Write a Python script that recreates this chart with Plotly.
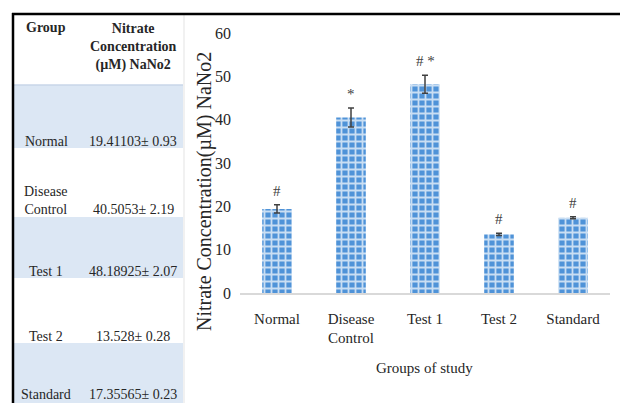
import plotly.graph_objects as go

# Nitrate concentration per study group (mean ± SEM)
groups = ["Normal", "Disease Control", "Test 1", "Test 2", "Standard"]
tick_labels = ["Normal", "Disease<br>Control", "Test 1", "Test 2", "Standard"]
table_labels = ["Normal", "Disease<br>Control", "Test 1", "Test 2", "Standard"]
means = [19.41103, 40.5053, 48.18925, 13.528, 17.35565]
sems = [0.93, 2.19, 2.07, 0.28, 0.23]
sig_marks = ["#", "*", "# *", "#", "#"]
y_ticks = [0, 10, 20, 30, 40, 50, 60]

W, H = 620, 403
SERIF = "Liberation Serif, Times New Roman, serif"
TEXT = "#262626"


def px(x):
    return x / W


def py(y):
    return 1 - y / H


def paper_text(text, x, y, size=14, angle=0, bold=False):
    if bold:
        text = f"<b>{text}</b>"
    return dict(text=text, xref="paper", yref="paper", x=px(x), y=py(y),
                xanchor="center", yanchor="middle", align="center",
                textangle=angle, showarrow=False,
                font=dict(family=SERIF, size=size, color=TEXT))


fig = go.Figure()

fig.add_trace(go.Bar(
    x=groups,
    y=means,
    width=0.4,
    marker=dict(
        color="#4F93D8",
        line=dict(width=0),
        pattern=dict(shape="+", fgcolor="#C9DEF3", bgcolor="#4F93D8",
                     size=7, solidity=0.45, fillmode="replace"),
    ),
    error_y=dict(type="data", array=sems, visible=True,
                 color="#404040", thickness=1.5, width=3),
    showlegend=False,
))

shapes = []
annotations = []

# --- table on the left ---------------------------------------------------
row_bands = [(85, 148, "#DCE7F4"), (148, 217, "#FFFFFF"), (217, 278, "#DCE7F4"),
             (278, 343, "#FFFFFF"), (343, 403, "#DCE7F4")]
for y0, y1, col in row_bands:
    shapes.append(dict(type="rect", xref="paper", yref="paper",
                       x0=px(14), x1=px(183), y0=py(y1), y1=py(y0),
                       fillcolor=col, line=dict(width=0), layer="below"))
# header separator and right edge of the table
shapes.append(dict(type="line", xref="paper", yref="paper",
                   x0=px(14), x1=px(183), y0=py(85), y1=py(85),
                   line=dict(color="#C8D6E8", width=1.5)))
shapes.append(dict(type="line", xref="paper", yref="paper",
                   x0=px(184), x1=px(184), y0=py(15), y1=py(403),
                   line=dict(color="#E3E3E3", width=1)))
# black frame (top and left)
shapes.append(dict(type="line", xref="paper", yref="paper",
                   x0=px(12), x1=px(620), y0=py(14), y1=py(14),
                   line=dict(color="#000000", width=2.5)))
shapes.append(dict(type="line", xref="paper", yref="paper",
                   x0=px(13), x1=px(13), y0=py(13), y1=py(403),
                   line=dict(color="#000000", width=2.5)))

# header text
annotations.append(paper_text("Group", 46, 28, bold=True))
annotations.append(paper_text("Nitrate<br>Concentration<br>(µM) NaNo2",
                              133, 47, bold=True))

# body rows: text sits at the bottom of each row
label_y = [141, 200, 271, 336, 394]
value_y = [141, 209, 271, 336, 394]
for lab, m, s, ly, vy in zip(table_labels, means, sems, label_y, value_y):
    annotations.append(paper_text(lab, 46, ly))
    annotations.append(paper_text(f"{m}± {s:.2f}", 133, vy))

# --- chart annotations ----------------------------------------------------
for g, m, s, mark in zip(groups, means, sems, sig_marks):
    annotations.append(dict(text=mark, x=g, y=m + s, xref="x", yref="y",
                            xanchor="center", yanchor="bottom", yshift=4,
                            showarrow=False,
                            font=dict(family=SERIF, size=15, color="#404040")))

annotations.append(paper_text("Nitrate Concentration(µM) NaNo2", 204, 192,
                              size=20, angle=-90))
annotations.append(paper_text("Groups of study", 425, 368, size=15))

fig.update_layout(
    width=W, height=H,
    margin=dict(l=0, r=0, t=0, b=0),
    paper_bgcolor="white",
    plot_bgcolor="white",
    shapes=shapes,
    annotations=annotations,
    xaxis=dict(
        domain=[px(240), px(610)],
        tickmode="array", tickvals=groups, ticktext=tick_labels,
        showline=True, linecolor="#D9D9D9", linewidth=1.5,
        ticks="", showgrid=False, zeroline=False,
        tickfont=dict(family=SERIF, size=15, color=TEXT),
        ticklabelstandoff=11,
        automargin=False,
    ),
    yaxis=dict(
        domain=[py(293), py(33)],
        range=[0, 60], tickvals=y_ticks,
        showline=False, showgrid=False, zeroline=False, ticks="",
        tickfont=dict(family=SERIF, size=16, color=TEXT),
        ticklabelstandoff=8,
        automargin=False,
    ),
)

fig.write_html("out.html")
